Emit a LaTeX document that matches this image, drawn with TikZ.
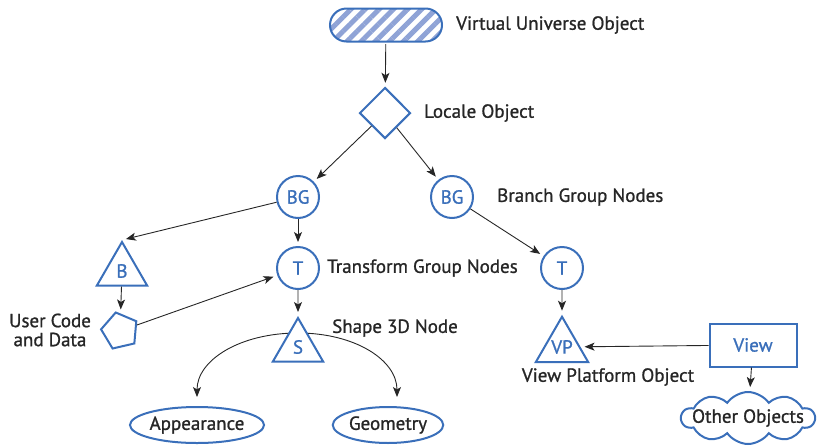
\documentclass[tikz,border=0pt]{standalone}
\usepackage{fontspec}
\setmainfont{PT Sans}[FakeBold=1]
\usetikzlibrary{arrows.meta,shapes.geometric,shapes.symbols,patterns.meta,backgrounds}
\definecolor{jblue}{HTML}{3A6FBA}
\definecolor{jstripe}{HTML}{8FA3D6}
\definecolor{jtext}{HTML}{262626}

\begin{document}
\begin{tikzpicture}[x=1pt,y=-1pt,
        every node/.style={font=\fontsize{19}{20}\selectfont,text=jtext},
        obj/.style={draw=jblue,line width=2pt,fill=white,text=jblue,inner sep=0pt},
        grp/.style={obj,circle,minimum size=42pt},
        tri/.style={obj,regular polygon,regular polygon sides=3,minimum size=58pt},
        blob/.style={obj,ellipse,minimum height=36pt},
        arr/.style={-{Stealth[length=10pt,width=8pt,inset=2.5pt]},line width=0.9pt,jtext,shorten >=4pt},
        lbl/.style={anchor=west,inner sep=0pt}]
        \useasboundingbox (0,0) rectangle (817,445);
        \node[draw=jblue,line width=2pt,rounded corners=16.5pt,minimum width=112pt,minimum height=33pt,
                pattern={Lines[angle=45,distance=10pt,line width=5pt]},pattern color=jstripe] (VU) at (386,25) {};
        \node[obj,diamond,minimum size=51pt] (LO) at (385,113) {};
        \node[grp] (BG1) at (298,197) {BG};
        \node[grp] (BG2) at (452,197) {BG};
        \node[grp] (T1) at (298,268) {T};
        \node[grp] (T2) at (562,268) {T};
        \node[tri] (B) at (122,271) {B};
        \node[obj,regular polygon,regular polygon sides=5,shape border rotate=85,minimum size=38pt] (UC) at (120,331) {};
        \node[tri] (S) at (298,347) {S};
        \node[tri] (VP) at (562,347) {VP};
        \node[obj,rectangle,minimum width=87pt,minimum height=43pt] (View) at (753,345) {View};
        \node[obj,cloud,cloud puffs=10,cloud puff arc=110,aspect=2.6,minimum width=133pt,minimum height=52pt] (OO) at (748,418) {};
        \node (OOtxt) at (OO) {Other Objects};
        \node[blob,minimum width=129pt,text=jtext] (App) at (197,425) {Appearance};
        \node[blob,minimum width=110pt,text=jtext] (Geo) at (388,425) {Geometry};

        \node[lbl] (VUtxt) at (456,25) {Virtual Universe Object};
        \node[lbl] (LOtxt) at (424,113) {Locale Object};
        \node[lbl] (BGtxt) at (497,197) {Branch Group Nodes};
        \node[lbl] (Ttxt) at (327,268) {Transform Group Nodes};
        \node[lbl] (Stxt) at (332,328) {Shape 3D Node};
        \node (VPtxt) at (608,377) {View Platform Object};
        \node[align=center,inner sep=0pt,font=\fontsize{19}{18}\selectfont] (UCtxt) at (50,330) {User Code\\[1pt]and Data};

        \draw[arr] (VU) -- (LO);
        \draw[arr] (LO) -- (BG1);
        \draw[arr] (LO) -- (BG2);
        \draw[arr] (BG1) -- (B.north);
        \draw[arr] (BG1) -- (T1);
        \draw[arr] (BG2) -- (T2);
        \draw[arr] (B) -- (UC);
        \draw[arr] (UC) -- (T1);
        \draw[arr] (T1) -- (S);
        \draw[arr] (T2) -- (VP);
        \draw[arr] (View) -- (VP);
        \draw[arr] (View) -- (OO);
        \coordinate (Stop) at (298,333);
        \begin{scope}[on background layer]
        \draw[arr,shorten >=9pt] (Stop) .. controls (240,333) and (197,360) .. (App.north);
        \draw[arr,shorten >=9pt] (Stop) .. controls (355,333) and (397,360) .. ([xshift=9pt]Geo.north);
        \end{scope}
\end{tikzpicture}
\end{document}
